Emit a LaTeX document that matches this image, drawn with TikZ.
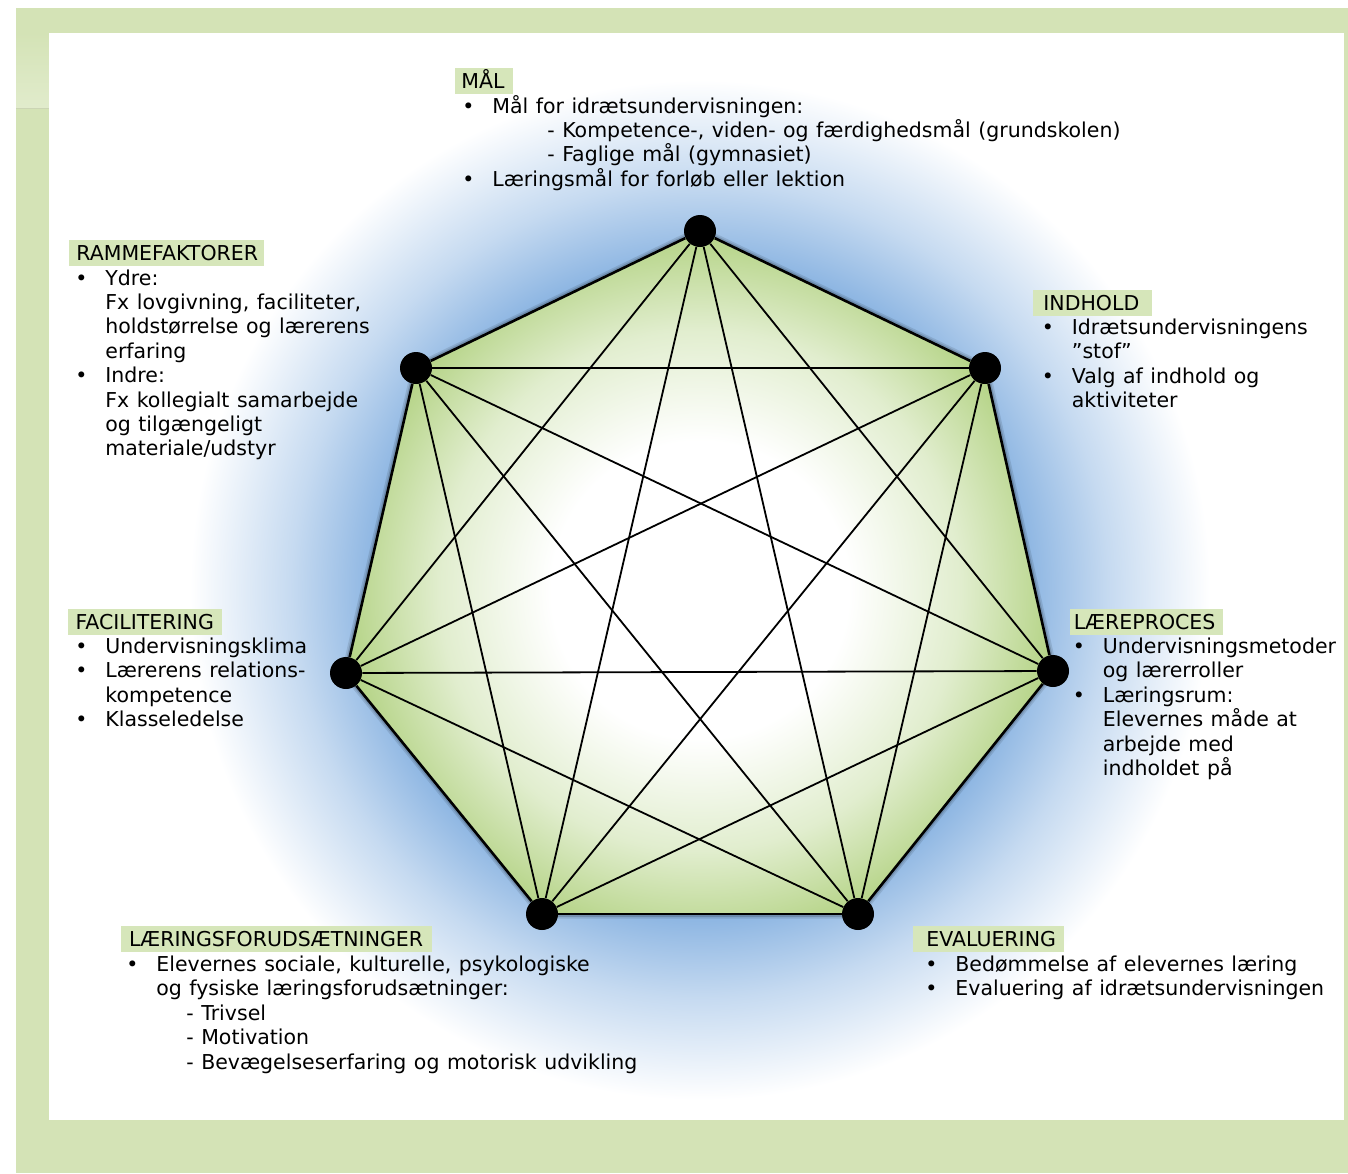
\documentclass[tikz,border=0pt]{standalone}
\usepackage{fontspec}
\setmainfont{DejaVu Sans}[WordSpace=1.15]
\usetikzlibrary{shadings}
\definecolor{framegreen}{RGB}{212,227,182}
\definecolor{hdgreen}{RGB}{214,230,186}
\definecolor{glowblue}{RGB}{140,181,226}
\definecolor{heptgreen}{RGB}{180,211,133}
\pgfdeclareradialshading{glowshade}{\pgfpoint{0bp}{0bp}}{color(0bp)=(glowblue); color(16bp)=(glowblue); color(20bp)=(glowblue!50!white); color(25bp)=(white); color(50bp)=(white)}
\pgfdeclareradialshading{heptshade}{\pgfpoint{0bp}{0bp}}{color(0bp)=(white); color(10bp)=(white); color(17.5bp)=(heptgreen!40!white); color(24bp)=(heptgreen); color(50bp)=(heptgreen)}
\newcommand\bul{\leavevmode\llap{\textbullet\hspace{9pt}}}
\newcommand\blk[1]{\vtop{\baselineskip=12.2pt\lineskiplimit=-\maxdimen\lineskip=0pt #1}}
\newcommand\hd[3]{\hspace*{#1}#2\hspace*{#3}}
\begin{document}
\begin{tikzpicture}[x=0.5pt,y=-0.5pt,
  every node/.style={font=\fontsize{10.25pt}{12.2pt}\selectfont, text=black},
  head/.style={fill=hdgreen, inner xsep=0pt, inner ysep=0pt, text height=10.25pt, text depth=2.65pt, anchor=base west},
  body/.style={inner sep=0pt, anchor=base west},
  dot/.style={circle, fill=black, inner sep=0pt, minimum size=16pt},
  side/.style={line width=1.3pt, black},
  diag/.style={line width=0.9pt, black}]
\useasboundingbox (0,0) rectangle (1348,1173);
% frame
\fill[white] (0,0) rectangle (1348,1173);
\fill[framegreen] (16,8) rectangle (1348,1173);
\shade[top color=framegreen, bottom color=framegreen!70!white] (16,33) rectangle (49,108);
\draw[framegreen!80!black, opacity=0.4, line width=0.5pt] (16,108) -- (49,108);
\fill[white] (49,33) rectangle (1344,1120);
% glow
\begin{scope}
  \clip (49,33) rectangle (1344,1120);
  \shade[shading=glowshade] (700,590) circle (510);
\end{scope}
% vertices
\coordinate (p1) at (700,231);
\coordinate (p2) at (985,368);
\coordinate (p3) at (1053,671);
\coordinate (p4) at (858,914);
\coordinate (p5) at (542,914);
\coordinate (p6) at (346,673);
\coordinate (p7) at (416,368);
% shadow
\begin{scope}[shift={(2,3)}]
  \draw[black, opacity=0.10, line width=4.5pt, line join=round] (p1)--(p2)--(p3)--(p4)--(p5)--(p6)--(p7)--cycle;
  \draw[black, opacity=0.15, line width=2.8pt, line join=round] (p1)--(p2)--(p3)--(p4)--(p5)--(p6)--(p7)--cycle;
\end{scope}
% fill
\begin{scope}
  \clip (p1)--(p2)--(p3)--(p4)--(p5)--(p6)--(p7)--cycle;
  \fill[white] (700,590) circle (380);
  \shade[shading=heptshade] (700,590) circle (372);
\end{scope}
% dots
\foreach \i in {1,...,7} { \node[dot] (v\i) at (p\i) {}; }
% diagonals
\foreach \a/\b in {1/3,1/4,1/5,1/6,2/4,2/5,2/6,2/7,3/5,3/6,3/7,4/6,4/7,5/7}
  { \draw[diag] (v\a) -- (v\b); }
% sides
\foreach \a/\b in {1/2,2/3,3/4,4/5,5/6,6/7,7/1}
  { \draw[side] (v\a) -- (v\b); }
% ---------- texts ----------
% MÅL
\node[head] (malH) at (455,88.5) {\hd{3pt}{MÅL}{4pt}};
\node[body] (malB) at (492,113) {\blk{%
  \hbox{\bul Mål for idrætsundervisningen:}
  \hbox{\hspace*{27.5pt}- Kompetence-, viden- og færdighedsmål (grundskolen)}
  \hbox{\hspace*{27.5pt}- Faglige mål (gymnasiet)}
  \hbox{\bul Læringsmål for forløb eller lektion}}};
% RAMMEFAKTORER
\node[head] (ramH) at (68.5,260.7) {\hd{3.75pt}{RAMMEFAKTORER}{3pt}};
\node[body] (ramB) at (105,285) {\blk{%
  \hbox{\bul Ydre:}
  \hbox{Fx lovgivning, faciliteter,}
  \hbox{holdstørrelse og lærerens}
  \hbox{erfaring}
  \hbox{\bul Indre:}
  \hbox{Fx kollegialt samarbejde}
  \hbox{og tilgængeligt}
  \hbox{materiale/udstyr}}};
% INDHOLD
\node[head] (indH) at (1033,310.7) {\hd{5pt}{INDHOLD}{6.5pt}};
\node[body] (indB) at (1071.5,334.5) {\blk{%
  \hbox{\bul Idrætsundervisningens}
  \hbox{”stof”}
  \hbox{\bul Valg af indhold og}
  \hbox{aktiviteter}}};
% LÆREPROCES
\node[head] (larH) at (1070,629.3) {\hd{1.7pt}{LÆREPROCES}{4pt}};
\node[body] (larB) at (1102.5,653.5) {\blk{%
  \hbox{\bul Undervisningsmetoder}
  \hbox{og lærerroller}
  \hbox{\bul Læringsrum:}
  \hbox{Elevernes måde at}
  \hbox{arbejde med}
  \hbox{indholdet på}}};
% FACILITERING
\node[head] (facH) at (67.5,629.3) {\hd{3.8pt}{FACILITERING}{4.2pt}};
\node[body] (facB) at (105,653.5) {\blk{%
  \hbox{\bul Undervisningsklima}
  \hbox{\bul Lærerens relations-}
  \hbox{kompetence}
  \hbox{\bul Klasseledelse}}};
% LÆRINGSFORUDSÆTNINGER
\node[head] (lfH) at (121,946.7) {\hd{3.8pt}{LÆRINGSFORUDSÆTNINGER}{4.3pt}};
\node[body] (lfB) at (156,971.5) {\blk{%
  \hbox{\bul Elevernes sociale, kulturelle, psykologiske}
  \hbox{og fysiske læringsforudsætninger:}
  \hbox{\hspace*{15pt}- Trivsel}
  \hbox{\hspace*{15pt}- Motivation}
  \hbox{\hspace*{15pt}- Bevægelseserfaring og motorisk udvikling}}};
% EVALUERING
\node[head] (evH) at (913,946.7) {\hd{6.5pt}{EVALUERING}{4pt}};
\node[body] (evB) at (955,971.5) {\blk{%
  \hbox{\bul Bedømmelse af elevernes læring}
  \hbox{\bul Evaluering af idrætsundervisningen}}};
\end{tikzpicture}
\end{document}
